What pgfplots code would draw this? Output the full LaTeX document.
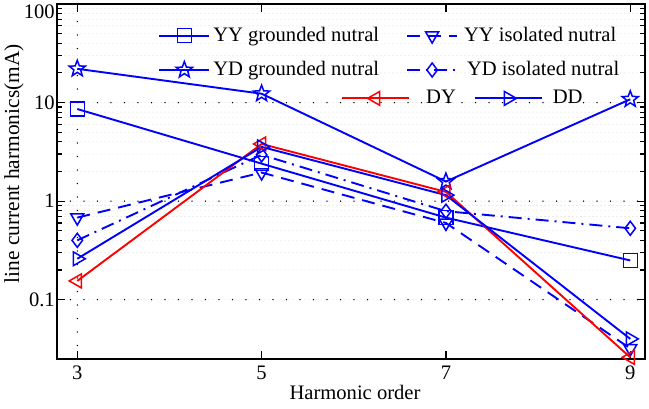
\documentclass[border=0pt]{standalone}
\usepackage{pgfplots}
\pgfplotsset{compat=1.18}
\usepackage{fontspec}
\setmainfont{Liberation Serif}
\newcommand{\bigf}{\fontsize{20.6}{24}\selectfont}
\newcommand{\ylf}{\fontsize{21.4}{26}\selectfont}
\pgfdeclareplotmark{pentagram}{%
  \pgfpathmoveto{\pgfpointpolar{90}{\pgfplotmarksize}}%
  \pgfpathlineto{\pgfpointpolar{126}{0.42\pgfplotmarksize}}%
  \pgfpathlineto{\pgfpointpolar{162}{\pgfplotmarksize}}%
  \pgfpathlineto{\pgfpointpolar{198}{0.42\pgfplotmarksize}}%
  \pgfpathlineto{\pgfpointpolar{234}{\pgfplotmarksize}}%
  \pgfpathlineto{\pgfpointpolar{270}{0.42\pgfplotmarksize}}%
  \pgfpathlineto{\pgfpointpolar{306}{\pgfplotmarksize}}%
  \pgfpathlineto{\pgfpointpolar{342}{0.42\pgfplotmarksize}}%
  \pgfpathlineto{\pgfpointpolar{18}{\pgfplotmarksize}}%
  \pgfpathlineto{\pgfpointpolar{54}{0.42\pgfplotmarksize}}%
  \pgfpathclose\pgfusepathqstroke}
\begin{document}
\bigf
\begin{tikzpicture}[font=\bigf]
\path[use as bounding box] (-57pt,-49pt) rectangle (592pt,359pt);
\begin{axis}[
  scale only axis, width=588pt, height=355pt,
  at={(0pt,0pt)}, anchor=south west,
  ymode=log, xmin=2.78, xmax=9.16, ymin=0.025, ymax=100,
  xtick={3,5,7,9}, xticklabels={3,5,7,9},
  ytick={0.1,1,10,100}, yticklabels={0.1,1,10,{\raisebox{-14pt}[0pt][0pt]{100}}},
  xtick pos=both, ytick pos=both,
  tick align=inside,
  major tick length=8pt, minor tick length=5pt,
  tick style={black, line width=1.2pt},
  axis line style={line width=1.8pt},
  ymajorgrids, yminorgrids,
  major grid style={black, line width=1.5pt, dash pattern=on 0pt off 13.5pt, line cap=round},
  minor grid style={gray!50, line width=0.8pt, dash pattern=on 0pt off 4pt, line cap=round},
  tick label style={font=\bigf},
  yticklabel style={inner sep=2pt},
  xlabel={\bigf Harmonic order},
  xlabel style={font=\bigf, at={(rel axis cs:0.5,0)}, anchor=north, yshift=-26pt, xshift=4pt, inner sep=0pt},
  ylabel={\ylf line current harmonics(mA)},
  ylabel style={font=\ylf, at={(rel axis cs:-0.0646,0.55)}, anchor=base, inner sep=0pt},
  legend columns=2,
  legend image code/.code={\draw[mark repeat=2,mark phase=2,#1] plot coordinates {(0pt,0pt) (25pt,0pt) (50pt,0pt)};},
  legend style={at={(rel axis cs:0.167,0.950)}, anchor=north west, draw=none, fill=none,
    font=\bigf, row sep=11pt, nodes={inner sep=3pt},
    /tikz/every even column/.append style={column sep=24pt}},
]
\addplot[forget plot, black, line width=1.5pt, dash pattern=on 0pt off 13.5pt, line cap=round] coordinates {(3,0.025) (3,100)};
\addplot[blue, line width=1.9pt, mark size=7pt, mark options={solid, line width=1.5pt, fill=none}, mark=square] coordinates {(3,8.6) (5,2.4) (7,0.68) (9,0.25)};
\addlegendentry{YY grounded nutral}
\addplot[blue, line width=1.9pt, dash pattern=on 13pt off 8pt, mark=triangle, mark size=7.5pt, mark options={solid, line width=1.5pt, fill=none, rotate=180}] coordinates {(3,0.68) (5,1.95) (7,0.6) (9,0.032)};
\addlegendentry{YY isolated nutral}
\addplot[blue, line width=1.9pt, mark=pentagram, mark size=8.5pt, mark options={solid, line width=1.5pt, fill=none}] coordinates {(3,22) (5,12.3) (7,1.58) (9,10.8)};
\addlegendentry{YD grounded nutral}
\addplot[blue, line width=1.9pt, dash pattern=on 13pt off 6pt on 2pt off 6pt, mark=diamond, mark size=7pt, mark options={solid, line width=1.5pt, fill=none}] coordinates {(3,0.40) (5,2.95) (7,0.79) (9,0.53)};
\addlegendentry{\hspace{6pt}YD isolated nutral}
\end{axis}
\begin{axis}[
  scale only axis, width=588pt, height=355pt,
  at={(0pt,0pt)}, anchor=south west,
  ymode=log, xmin=2.78, xmax=9.16, ymin=0.025, ymax=100,
  hide axis,
  legend columns=2,
  legend image code/.code={\draw[mark repeat=2,mark phase=2,#1] plot coordinates {(0pt,0pt) (33.5pt,0pt) (67pt,0pt)};},
  legend style={at={(rel axis cs:0.478,0.775)}, anchor=north west, draw=none, fill=none,
    font=\bigf, nodes={inner sep=4pt},
    /tikz/every even column/.append style={column sep=14pt}},
]
\addplot[red, line width=1.9pt, mark=triangle, mark size=8pt, mark options={solid, line width=1.5pt, fill=none, rotate=90}] coordinates {(3,0.155) (5,3.8) (7,1.24) (9,0.026)};
\addlegendentry{\hspace{12pt}DY}
\addplot[blue, line width=1.9pt, mark=triangle, mark size=8pt, mark options={solid, line width=1.5pt, fill=none, rotate=-90}] coordinates {(3,0.26) (5,3.55) (7,1.15) (9,0.04)};
\addlegendentry{\hspace{6pt}DD}
\end{axis}
\end{tikzpicture}
\end{document}
